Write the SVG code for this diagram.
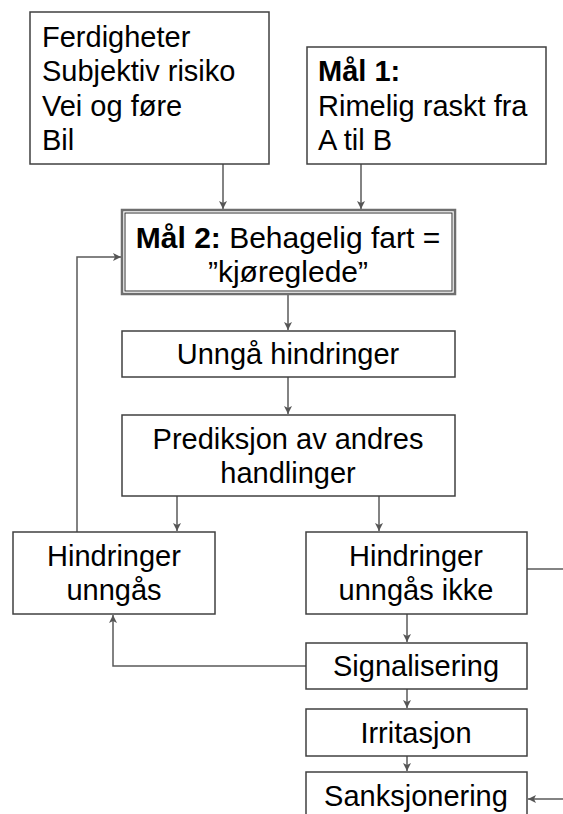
<svg xmlns="http://www.w3.org/2000/svg" width="563" height="814" viewBox="0 0 563 814">
<defs>
<marker id="ah" markerWidth="10" markerHeight="10" refX="9" refY="5" orient="auto" markerUnits="userSpaceOnUse">
<path d="M1,1 L9,5 L1,9 L3,5 Z" fill="#555"/>
</marker>
<style>
.box{fill:#fff;stroke:#404040;stroke-width:1.5}
.t{font-family:"Liberation Sans",Arial,sans-serif;font-size:29px;fill:#000}
.c{text-anchor:middle}
.b{font-weight:bold}
.con{fill:none;stroke:#5a5a5a;stroke-width:1.5}
.arr{marker-end:url(#ah)}
</style>
</defs>
<rect width="563" height="814" fill="#fff"/>
<g id="connectors">
<path class="con arr" d="M223,164 V209"/>
<path class="con arr" d="M361,164 V209"/>
<path class="con arr" d="M288,294 V330"/>
<path class="con arr" d="M288,377 V414"/>
<path class="con arr" d="M177,496 V531"/>
<path class="con arr" d="M379,496 V531"/>
<path class="con arr" d="M77,532 V257 H121"/>
<path class="con" d="M527,569 H563"/>
<path class="con arr" d="M407,614 V642"/>
<path class="con arr" d="M306,666 H113 V615"/>
<path class="con arr" d="M407,689 V708"/>
<path class="con arr" d="M407,756 V771"/>
<path class="con arr" d="M563,799 H528"/>
</g>
<g id="n-faktorer">
<rect class="box" x="30" y="12" width="239" height="152"/>
<text class="t" x="42" y="47">Ferdigheter</text>
<text class="t" x="42" y="81">Subjektiv risiko</text>
<text class="t" x="42" y="116">Vei og føre</text>
<text class="t" x="42" y="150">Bil</text>
</g>
<g id="n-maal1">
<rect class="box" x="307" y="47" width="239" height="117"/>
<text class="t b" x="318" y="81">Mål 1:</text>
<text class="t" x="318" y="116">Rimelig raskt fra</text>
<text class="t" x="318" y="150">A til B</text>
</g>
<g id="n-maal2">
<rect x="122" y="210" width="333" height="84" fill="#fff" stroke="#6e6e6e" stroke-width="2.5"/>
<rect x="125" y="213" width="327" height="78" fill="none" stroke="#303030" stroke-width="1"/>
<text class="t c" x="288" y="248" style="font-size:30px"><tspan class="b">Mål 2:</tspan> Behagelig fart =</text>
<text class="t c" x="288" y="282" style="font-size:30px">”kjøreglede”</text>
</g>
<g id="n-unnga">
<rect class="box" x="122" y="331" width="333" height="46"/>
<text class="t c" x="288" y="364">Unngå hindringer</text>
</g>
<g id="n-prediksjon">
<rect class="box" x="122" y="415" width="333" height="81"/>
<text class="t c" x="288" y="449">Prediksjon av andres</text>
<text class="t c" x="288" y="483">handlinger</text>
</g>
<g id="n-unngas">
<rect class="box" x="13" y="532" width="202" height="82"/>
<text class="t c" x="114" y="566">Hindringer</text>
<text class="t c" x="114" y="600">unngås</text>
</g>
<g id="n-unngas-ikke">
<rect class="box" x="306" y="532" width="221" height="82"/>
<text class="t c" x="416" y="566">Hindringer</text>
<text class="t c" x="416" y="600">unngås ikke</text>
</g>
<g id="n-signalisering">
<rect class="box" x="306" y="643" width="221" height="46"/>
<text class="t c" x="416" y="676">Signalisering</text>
</g>
<g id="n-irritasjon">
<rect class="box" x="306" y="709" width="221" height="47"/>
<text class="t c" x="416" y="743">Irritasjon</text>
</g>
<g id="n-sanksjonering">
<rect class="box" x="306" y="772" width="221" height="60"/>
<text class="t c" x="416" y="806">Sanksjonering</text>
</g>
</svg>
